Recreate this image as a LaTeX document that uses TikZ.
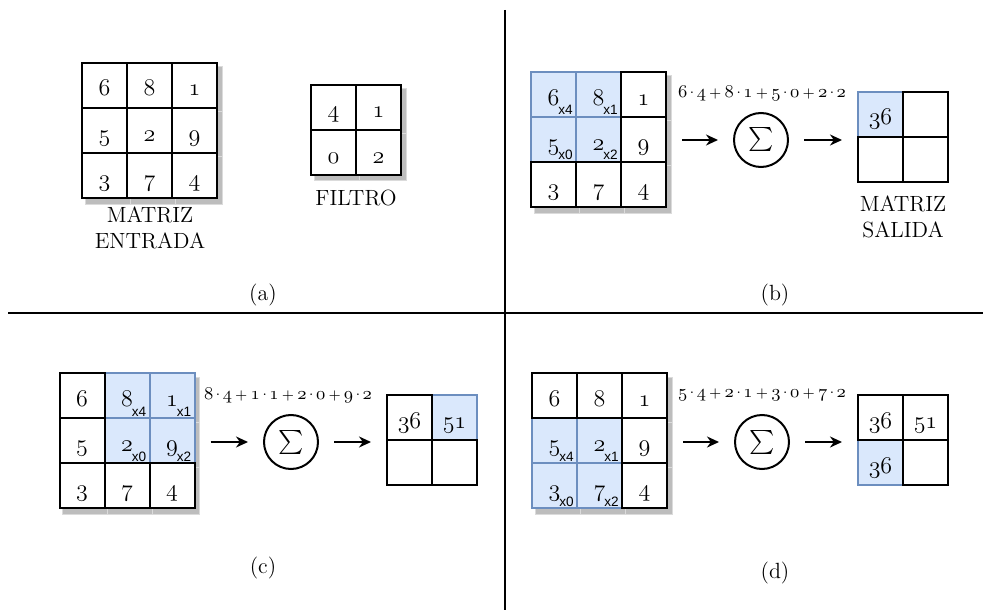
\documentclass[tikz,border=0pt]{standalone}
\usepackage{amsmath}
\usepackage{fontspec}
\newfontfamily\subf{Liberation Sans}
\usetikzlibrary{arrows.meta,backgrounds}
\definecolor{hlfill}{HTML}{DAE8FC}
\definecolor{hldraw}{HTML}{6C8EBF}
\definecolor{shd}{HTML}{BDBDBD}
\newcommand\osn[1]{{\fontencoding{OML}\fontfamily{cmm}\fontseries{m}\fontshape{it}\selectfont #1}}
\newcommand\fosn[1]{{\fontsize{9}{10}\selectfont\osn{#1}}}
\newcommand\hx[2]{\osn{#1}\rlap{\kern-0.5pt\raisebox{-5pt}{\subf\fontsize{6.8}{7}\selectfont #2}}}
\newcommand\pr[2]{\fosn{#1}\kern-0.7pt\textperiodcentered\kern-0.7pt\fosn{#2}}
\newcommand\pl{\hspace{1.6pt}+\hspace{1.6pt}}
\tikzset{
  cell/.style={draw=black, line width=1pt, fill=white, minimum size=22.5pt, inner sep=0pt,
    text height=10.5pt, text depth=0pt, font=\fontsize{12}{14}\selectfont},
  hl/.style={cell, draw=hldraw, fill=hlfill},
  lbl/.style={font=\fontsize{11}{13}\selectfont, align=center, inner sep=0pt},
  frm/.style={font=\fontsize{7}{8}\selectfont, inner sep=0pt},
  arr/.style={-{Stealth[length=6pt,width=5.5pt]}, line width=1pt, shorten <=7.5pt, shorten >=7.5pt},
  sumc/.style={circle, draw, line width=1pt, minimum size=27pt, inner sep=0pt},
  divl/.style={line width=1pt},
  shdw/.style={fill=shd, draw=shd!55!white, line width=0.5pt}
}
\newcommand\sumsym{{\fontsize{12.5}{14}\selectfont$\sum$}}
\newcommand\shadowcells[3]{% prefix, rows, cols
  \begin{scope}[on background layer]
    \foreach \ri in {1,...,#2} \foreach \ci in {1,...,#3}
      \filldraw[shdw] ([shift={(4,5)}]#1-\ri-\ci.north west) rectangle ([shift={(4,5)}]#1-\ri-\ci.south east);
  \end{scope}}
\begin{document}
\begin{tikzpicture}[x=0.5pt,y=-0.5pt]
\useasboundingbox (0,0) rectangle (991,610);

% dividers
\draw[divl] (505,10) -- (505,610);
\draw[divl] (8,313) -- (983,313);

% ---------- panel (a)
\foreach \ri/\ci/\vv in {1/1/6,1/2/8,1/3/1,2/1/5,2/2/2,2/3/9,3/1/3,3/2/7,3/3/4}
  \node[cell] (ma-\ri-\ci) at ({82+22.5+45*(\ci-1)},{63+22.5+45*(\ri-1)}) {\osn{\vv}};
\shadowcells{ma}{3}{3}
\foreach \ri/\ci/\vv in {1/1/4,1/2/1,2/1/0,2/2/2}
  \node[cell] (fa-\ri-\ci) at ({311+22.5+45*(\ci-1)},{85+22.5+45*(\ri-1)}) {\osn{\vv}};
\shadowcells{fa}{2}{2}
\node[lbl] (la1) at (150,228) {MATRIZ\\[0pt]ENTRADA};
\node[lbl] (la2) at (356,198) {FILTRO};
\node[lbl] (capa) at (263,295) {(a)};

% ---------- panel (b)
\foreach \ri/\ci/\st/\vv in {1/1/hl/{\hx{6}{x4}},1/2/hl/{\hx{8}{x1}},2/1/hl/{\hx{5}{x0}},2/2/hl/{\hx{2}{x2}},
    1/3/cell/{\osn{1}},2/3/cell/{\osn{9}},3/1/cell/{\osn{3}},3/2/cell/{\osn{7}},3/3/cell/{\osn{4}}}
  \node[\st] (mb-\ri-\ci) at ({531+22.5+45*(\ci-1)},{72+22.5+45*(\ri-1)}) {\vv};
\shadowcells{mb}{3}{3}
\node[sumc] (sb) at (761,140) {\sumsym};
\node[frm] (fb) at (762,93) {\pr64\pl\pr81\pl\pr50\pl\pr22};
\foreach \ri/\ci/\st/\vv in {1/1/hl/{\osn{36}},1/2/cell/{},2/1/cell/{},2/2/cell/{}}
  \node[\st] (ob-\ri-\ci) at ({858+22.5+45*(\ci-1)},{92+22.5+45*(\ri-1)}) {\vv};
\draw[arr] (sb -| mb-2-3.east) -- (sb.west);
\draw[arr] (sb.east) -- (sb -| ob-1-1.west);
\node[lbl] (lb1) at (903,217) {MATRIZ\\[0pt]SALIDA};
\node[lbl] (capb) at (775,295) {(b)};

% ---------- panel (c)
\foreach \ri/\ci/\st/\vv in {1/2/hl/{\hx{8}{x4}},1/3/hl/{\hx{1}{x1}},2/2/hl/{\hx{2}{x0}},2/3/hl/{\hx{9}{x2}},
    1/1/cell/{\osn{6}},2/1/cell/{\osn{5}},3/1/cell/{\osn{3}},3/2/cell/{\osn{7}},3/3/cell/{\osn{4}}}
  \node[\st] (mc-\ri-\ci) at ({59.5+22.5+45*(\ci-1)},{373+22.5+45*(\ri-1)}) {\vv};
\shadowcells{mc}{3}{3}
\node[sumc] (sc) at (291,442) {\sumsym};
\node[frm] (fc) at (288,395) {\pr84\pl\pr11\pl\pr20\pl\pr92};
\foreach \ri/\ci/\st/\vv in {1/2/hl/{\osn{51}},1/1/cell/{\osn{36}},2/1/cell/{},2/2/cell/{}}
  \node[\st] (oc-\ri-\ci) at ({387+22.5+45*(\ci-1)},{395+22.5+45*(\ri-1)}) {\vv};
\draw[arr] (sc -| mc-2-3.east) -- (sc.west);
\draw[arr] (sc.east) -- (sc -| oc-1-1.west);
\node[lbl] (capc) at (263,568) {(c)};

% ---------- panel (d)
\foreach \ri/\ci/\st/\vv in {2/1/hl/{\hx{5}{x4}},2/2/hl/{\hx{2}{x1}},3/1/hl/{\hx{3}{x0}},3/2/hl/{\hx{7}{x2}},
    1/1/cell/{\osn{6}},1/2/cell/{\osn{8}},1/3/cell/{\osn{1}},2/3/cell/{\osn{9}},3/3/cell/{\osn{4}}}
  \node[\st] (md-\ri-\ci) at ({532+22.5+45*(\ci-1)},{373+22.5+45*(\ri-1)}) {\vv};
\shadowcells{md}{3}{3}
\node[sumc] (sd) at (762,442) {\sumsym};
\node[frm] (fd) at (762,395) {\pr54\pl\pr21\pl\pr30\pl\pr72};
\foreach \ri/\ci/\st/\vv in {2/1/hl/{\osn{36}},1/1/cell/{\osn{36}},1/2/cell/{\osn{51}},2/2/cell/{}}
  \node[\st] (od-\ri-\ci) at ({858+22.5+45*(\ci-1)},{395+22.5+45*(\ri-1)}) {\vv};
\draw[arr] (sd -| md-2-3.east) -- (sd.west);
\draw[arr] (sd.east) -- (sd -| od-1-1.west);
\node[lbl] (capd) at (775,573) {(d)};
\end{tikzpicture}
\end{document}
